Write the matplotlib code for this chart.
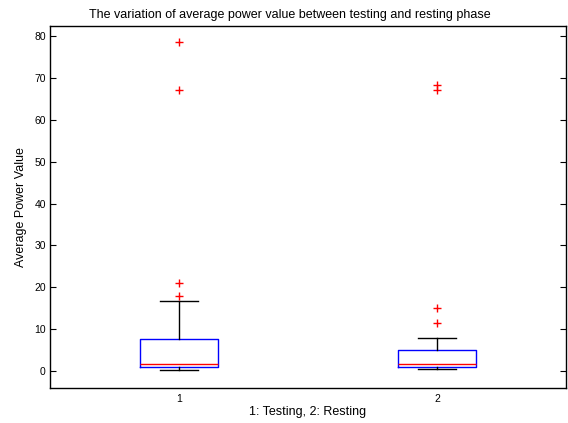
import matplotlib
matplotlib.use("Agg")
import matplotlib.pyplot as plt

plt.rcParams['font.family'] = ['Liberation Sans', 'DejaVu Sans']

groups = ['1', '2']
q1 = [0.95, 0.9]
med = [1.7, 1.6]
q3 = [7.6, 5.0]
whislo = [0.24, 0.4]
whishi = [16.8, 8.0]
fliers = [[18.0, 20.9, 67.1, 78.5], [11.4, 15.0, 67.2, 68.2]]

stats = []
for i in range(len(groups)):
    stats.append(dict(label=groups[i], q1=q1[i], med=med[i], q3=q3[i],
                      whislo=whislo[i], whishi=whishi[i], fliers=fliers[i]))

fig = plt.figure(figsize=(5.68, 4.23), dpi=100)
ax = fig.add_axes([50/568, (423-388)/423, 516/568, 362/423])

ax.bxp(stats, positions=[1, 2], widths=0.3, capwidths=0.15, showfliers=True,
       boxprops=dict(color='blue', linewidth=1),
       medianprops=dict(color='red', linewidth=1),
       whiskerprops=dict(color='black', linewidth=1, linestyle='-'),
       capprops=dict(color='black', linewidth=1),
       flierprops=dict(marker='+', markeredgecolor='red', markersize=6, linestyle='none'))

ax.set_xlim(0.5, 2.5)
ax.set_ylim(-4.06, 82.4)
ax.set_yticks(range(0, 81, 10))
ax.tick_params(axis='y', direction='in', right=True, labelsize=7.5, length=4, width=0.8, pad=3)
ax.tick_params(axis='x', length=0, labelsize=7.5, pad=4)
for s in ax.spines.values():
    s.set_linewidth(1)

ax.set_title('The variation of average power value between testing and resting phase',
             fontsize=9, pad=6, x=0.465)
ax.set_xlabel('1: Testing, 2: Resting', fontsize=9, labelpad=2)
ax.set_ylabel('Average Power Value', fontsize=9, labelpad=5)

fig.savefig('out.png', dpi=100)
